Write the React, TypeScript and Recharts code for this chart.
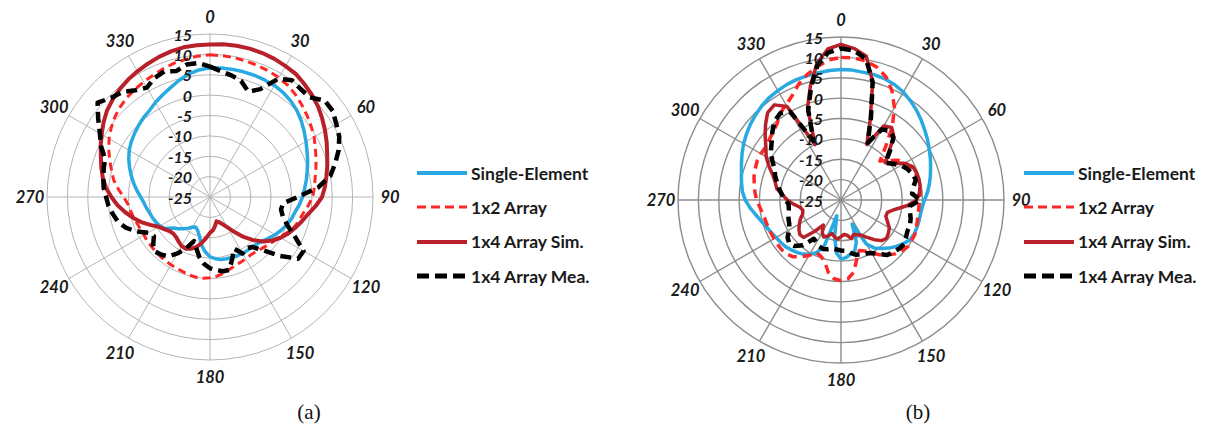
import React from 'react';
import { RadarChart, Radar, PolarGrid, PolarAngleAxis, PolarRadiusAxis, Legend } from 'recharts';

// sample angles (deg, clockwise from top)
const ANGLES = [
  0, 5, 10, 15, 20, 25, 30, 35, 40, 45, 50, 55, 60, 65, 70, 75, 80, 85,
  90, 95, 100, 105, 110, 115, 120, 125, 130, 135, 140, 145, 150, 155, 160, 165, 170, 175,
  180, 185, 190, 195, 200, 205, 210, 215, 220, 225, 230, 235, 240, 245, 250, 255, 260, 265,
  270, 275, 280, 285, 290, 295, 300, 305, 310, 315, 320, 325, 330, 335, 340, 345, 350, 355,
];
const ANGLE_TICKS = [0, 30, 60, 90, 120, 150, 180, 210, 240, 270, 300, 330];
const DB_TICKS = [-25, -20, -15, -10, -5, 0, 5, 10, 15];

// ---- (a) ----
const A_SINGLE = [
  6.7, 6.8, 6.8, 6.8, 6.8, 6.7, 6.6, 6.3, 5.8, 5.1, 4.2, 3.2, 2.2, 1.3, 0.5, -0.3, -1, -1.7,
  -2.3, -3, -3.8, -4.3, -5, -5.7, -6.5, -7.4, -8.2, -8.7, -8.9, -9, -9, -9.1, -9.2, -9.3, -9.4, -9.8,
  -10.3, -11.5, -13, -15, -16.2, -16.8, -16.5, -15.6, -14.8, -14, -13.2, -11.5, -10.8, -10.4, -10, -9.7, -9.2, -8.7,
  -8, -7, -6, -5, -4, -3, -2.1, -1.4, -0.8, -0.2, 0.4, 0.9, 1.8, 2.6, 3.5, 4.6, 5.6, 6.3,
];
const A_1X2 = [
  9.9, 9.8, 9.7, 9.5, 9.3, 9.1, 8.8, 8.4, 7.7, 6.9, 6.1, 5.3, 4.5, 3.5, 2.7, 1.9, 1.2, 0.7,
  0.2, -0.8, -1.8, -2.4, -3.1, -4.2, -5.3, -6, -6.6, -7.1, -7.5, -7.6, -7.5, -7.3, -7.1, -6.6, -6, -5.5,
  -5.2, -5, -5, -5.2, -5.5, -5.7, -5.8, -5.9, -6, -6.1, -6.2, -6.2, -6.3, -6.2, -6, -5.6, -5.2, -4.8,
  -3.8, -2.4, -1, 0, 1.2, 2.4, 3.6, 4.6, 5.5, 6.2, 6.8, 7.2, 7.6, 8, 8.5, 9, 9.3, 9.7,
];
const A_1X4_SIM = [
  12.4, 12.6, 12.7, 12.7, 12.6, 12.4, 12.1, 11.8, 11.1, 10.4, 9.6, 8.6, 7.6, 6.6, 5.6, 4.8, 4, 3.3,
  2.5, 1, -0.6, -1.7, -2.8, -3.8, -5, -6.4, -8, -10, -12.2, -14.5, -16.4, -17.6, -18.4, -18.8, -17.8, -16.8,
  -16.2, -15, -13.6, -12.3, -11.5, -11, -11.1, -11.6, -12.1, -12.3, -12, -11.3, -10.4, -8.8, -7, -5.4, -3.8, -2.2,
  -0.8, 0.6, 1.7, 2.6, 3.5, 4.6, 5.7, 6.9, 8, 8.8, 9.5, 10.1, 10.6, 11.1, 11.6, 12, 12.3, 12.4,
];
const A_1X4_MEA = [
  7, 6, 5.3, 4.5, 2.5, 4.2, 8.5, 10, 9.6, 9.6, 11.8, 11.8, 10.8, 10, 8.6, 6.8, 5, 1.6,
  -3.5, -7, -7.3, -6.5, -4.8, -2, 1.5, 1.4, -2.5, -6.5, -9, -9.6, -9, -11, -9, -6.5, -6.5, -7,
  -7.5, -8.5, -10, -12, -13.5, -11, -9, -7.2, -6.5, -6, -6.8, -8.2, -7.5, -5, -3, -1.6, -0.8, 0,
  0.5, 1.2, 1.6, 2, 2.4, 4.5, 6.2, 8.5, 11, 9.4, 8.6, 7, 6, 7.2, 7.8, 7, 8, 8,
];

// ---- (b) ----
const B_SINGLE = [
  7, 7, 6.8, 6.8, 6.6, 6.2, 5.6, 4.7, 3.8, 2.8, 1.8, 0.9, 0, -0.8, -1.6, -2.3, -3, -3.7,
  -4.5, -5, -5.2, -5.2, -5.2, -5.2, -5.5, -6.3, -7.3, -8.3, -9.5, -10.6, -12.5, -18.5, -14, -12, -11.5, -10.8,
  -10.5, -12, -16, -21, -13, -10.7, -9.6, -8.8, -8.2, -7.7, -7.2, -6.9, -6.6, -6.1, -5.6, -4.8, -3.8, -2.6,
  -1.5, -0.7, -0.2, 0.3, 1, 1.8, 2.6, 3.3, 4, 4.6, 5.2, 5.7, 6, 6.3, 6.5, 6.6, 6.7, 6.9,
];
const B_1X2 = [
  10, 10, 9.7, 8.8, 7.2, 4.6, 1.2, -3, -8, -11.5, -10, -8, -6.8, -6, -5.6, -5.4, -5.4, -5.5,
  -5.7, -5.8, -5.8, -5.6, -5.3, -5, -5, -5, -5.6, -6.3, -7.4, -8.6, -10, -11.2, -11.8, -10, -7, -5.6,
  -5.2, -5.6, -7, -9.4, -10.4, -10.7, -9.3, -8, -6.8, -6.2, -6, -6, -6, -6, -5.9, -5.8, -5.5, -5,
  -4.3, -3.8, -3.4, -2.9, -2.6, -2.3, -2.3, -2.4, -2, -1.4, -0.6, 1, 2, 3.3, 5.3, 6.9, 8.3, 9.5,
];
const B_1X4_SIM = [
  13.2, 12.3, 10.8, 5, -4, -10, -4, -3.3, -4.8, -8.5, -10.8, -9.3, -7, -5.6, -5.3, -5.2, -5.3, -5.7,
  -6.4, -8.8, -11.6, -13.2, -13.3, -12.4, -11.3, -10.8, -10.4, -10.9, -12.3, -13.8, -15, -15.6, -16, -15.2, -16.2, -16.5,
  -16, -15.4, -15.8, -16.5, -15.6, -15, -15.8, -17.5, -15, -12, -11.8, -12.4, -13.2, -14, -15, -15.3, -14.8, -13.3,
  -11.8, -10.6, -9, -8.3, -7.2, -5.5, -3.8, -2.5, -0.7, 1.2, 3, 3.5, 1.5, -10, -1, 4, 9, 12.2,
];
const B_1X4_MEA = [
  12.2, 11.8, 10.2, 5, -3.5, -9.5, -5, -4.2, -5, -8, -10.8, -9.5, -8, -7, -6.3, -6, -7, -7.5,
  -5.5, -8, -7.8, -7.3, -7, -7, -6.6, -6.1, -6.4, -6.9, -7.4, -8.8, -10, -10.5, -10.8, -11.1, -11.8, -12.5,
  -12.6, -12.8, -12.9, -12.5, -12.2, -12.4, -13, -13.4, -10.5, -9, -8.4, -9, -10.3, -11, -11.3, -11.6, -12, -12.1,
  -11.5, -10.5, -9.6, -8.8, -7.8, -7, -5.5, -4, -2.8, -1.2, 0.3, 1, 0, -9, -1.5, 3.5, 8.5, 11.3,
];

const FONT = 'Lato, "Open Sans", "DejaVu Sans", sans-serif';
const ANGLE_LABEL: React.CSSProperties = {
  fontFamily: FONT,
  fontWeight: 700,
  fontStyle: 'italic',
  fontSize: 16.5,
  fill: '#1a1a1a',
};
const RADIUS_LABEL: React.CSSProperties = { ...ANGLE_LABEL, fontSize: 16 };

const SERIES_NAMES = ['Single-Element', '1x2 Array', '1x4 Array Sim.', '1x4 Array Mea.'];
const KEYS = ['single', 'x2', 'x4sim', 'x4mea'];

type LineStyle = { color: string; width: number; dash?: string };

const STYLE_A: LineStyle[] = [
  { color: '#29a9e1', width: 3.5 },
  { color: '#ff2626', width: 3, dash: '8 5' },
  { color: '#b8202a', width: 4 },
  { color: '#000000', width: 4.5, dash: '11 6' },
];
const STYLE_B: LineStyle[] = [
  { color: '#29a9e1', width: 3.5 },
  { color: '#ff2626', width: 3.5, dash: '9 6' },
  { color: '#b8202a', width: 3.5 },
  { color: '#000000', width: 4.5, dash: '10 6' },
];
const LEGEND_LINES: LineStyle[] = [
  { color: '#29a9e1', width: 4 },
  { color: '#ff2626', width: 3, dash: '9 5' },
  { color: '#b8202a', width: 4 },
  { color: '#000000', width: 5, dash: '12 6' },
];

function buildRows(series: number[][]) {
  return ANGLES.map((angle, i) => {
    const row: Record<string, number> = { angle };
    KEYS.forEach((k, s) => {
      row[k] = series[s][i];
    });
    return row;
  });
}

const DATA_A = buildRows([A_SINGLE, A_1X2, A_1X4_SIM, A_1X4_MEA]);
const DATA_B = buildRows([B_SINGLE, B_1X2, B_1X4_SIM, B_1X4_MEA]);

const AngleTick = (props: any) => {
  const { x, y, payload } = props;
  return (
    <text x={x} y={y} textAnchor="middle" dominantBaseline="central" style={ANGLE_LABEL}>
      {payload.value}
    </text>
  );
};

const RadiusTick = (props: any) => {
  const { x, y, payload } = props;
  return (
    <text x={x - 18} y={y} textAnchor="end" dominantBaseline="central" style={RADIUS_LABEL}>
      {payload.value}
    </text>
  );
};

function LegendBox() {
  return (
    <div style={{ fontFamily: FONT, fontWeight: 700, fontSize: 17.5, color: '#1a1a1a' }}>
      {SERIES_NAMES.map((name, i) => {
        const l = LEGEND_LINES[i];
        return (
          <div key={name} style={{ display: 'flex', alignItems: 'center', height: 34.3, whiteSpace: 'nowrap' }}>
            <svg width={54} height={10} style={{ display: 'block' }}>
              <line x1={0} y1={5} x2={50} y2={5} stroke={l.color} strokeWidth={l.width} strokeDasharray={l.dash} />
            </svg>
            <span>{name}</span>
          </div>
        );
      })}
    </div>
  );
}

interface PolarPanelProps {
  data: Record<string, number>[];
  styles: LineStyle[];
  left: number;
  width: number;
  cx: number;
  cy: number;
  gridColor: string;
  gridWidth: number;
  legendLeft: number;
}

function PolarPanel({ data, styles, left, width, cx, cy, gridColor, gridWidth, legendLeft }: PolarPanelProps) {
  return (
    <div style={{ position: 'absolute', left, top: 0 }}>
      <RadarChart
        width={width}
        height={431}
        data={data}
        cx={cx}
        cy={cy}
        innerRadius={0}
        outerRadius={163}
        startAngle={90}
        endAngle={-270}
        margin={{ top: 0, right: 0, bottom: 0, left: 0 }}
      >
        <PolarGrid gridType="circle" stroke={gridColor} strokeWidth={gridWidth} />
        <PolarAngleAxis
          dataKey="angle"
          type="number"
          domain={[0, 360]}
          ticks={ANGLE_TICKS}
          tick={AngleTick}
          tickLine={false}
          axisLine={false}
          tickSize={17}
        />
        <PolarRadiusAxis
          angle={90}
          type="number"
          domain={[-25, 15]}
          ticks={DB_TICKS}
          tick={RadiusTick}
          tickLine={false}
          axisLine={false}
        />
        {KEYS.map((k, i) => (
          <Radar
            key={k}
            dataKey={k}
            name={SERIES_NAMES[i]}
            stroke={styles[i].color}
            strokeWidth={styles[i].width}
            strokeDasharray={styles[i].dash}
            strokeLinejoin="round"
            fill="none"
            fillOpacity={0}
            dot={false}
            isAnimationActive={false}
          />
        ))}
        <Legend
          layout="vertical"
          align="right"
          verticalAlign="top"
          content={() => <LegendBox />}
          wrapperStyle={{ left: legendLeft, top: 156, right: 'auto', bottom: 'auto', width: 'auto' }}
        />
      </RadarChart>
    </div>
  );
}

const CAPTION: React.CSSProperties = {
  position: 'absolute',
  top: 400,
  fontFamily: '"Liberation Serif", "DejaVu Serif", serif',
  fontSize: 21,
  color: '#111',
  transform: 'translateX(-50%)',
};

export default function App() {
  return (
    <div style={{ position: 'absolute', left: 0, top: 0, width: 1231, height: 431, background: '#fff', overflow: 'hidden' }}>
      <PolarPanel
        data={DATA_A}
        styles={STYLE_A}
        left={0}
        width={620}
        cx={210}
        cy={197}
        gridColor="#b5b5b5"
        gridWidth={1}
        legendLeft={417}
      />
      <PolarPanel
        data={DATA_B}
        styles={STYLE_B}
        left={620}
        width={611}
        cx={221}
        cy={200}
        gridColor="#8c8c8c"
        gridWidth={1.4}
        legendLeft={404}
      />
      <div style={{ ...CAPTION, left: 309 }}>(a)</div>
      <div style={{ ...CAPTION, left: 918 }}>(b)</div>
    </div>
  );
}
